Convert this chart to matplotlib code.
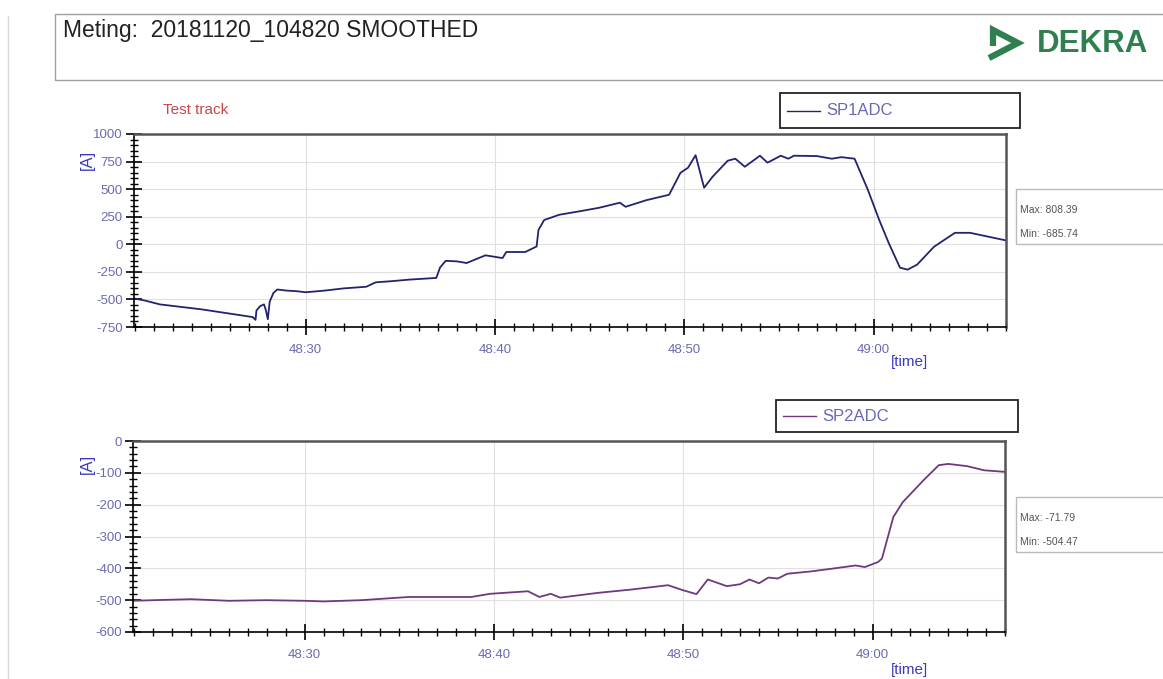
import matplotlib
matplotlib.use("Agg")
import matplotlib.pyplot as plt
from matplotlib.patches import Rectangle
from matplotlib.lines import Line2D
from matplotlib.ticker import MultipleLocator, FuncFormatter

plt.rcParams['font.family'] = ['Liberation Sans', 'DejaVu Sans']
plt.rcParams['axes.unicode_minus'] = False

W, H = 1163, 679

# time in seconds after 10:48:00
sp1_t = [20.9, 21.5, 22.3, 24.5, 27.2, 27.35, 27.4, 27.6, 27.8, 27.9, 28.0, 28.1,
         28.3, 28.5, 29.0, 29.5, 30.0, 31.0, 32.0, 33.2, 33.7, 34.5, 35.5, 36.9,
         37.1, 37.4, 38.0, 38.5, 39.5, 40.4, 40.6, 41.6, 42.2, 42.3, 42.6, 43.4,
         44.5, 45.5, 46.6, 46.9, 48.0, 49.2, 49.8, 50.2, 50.6, 51.05, 51.5, 52.3,
         52.7, 53.2, 54.0, 54.4, 55.1, 55.5, 55.8, 57.0, 57.8, 58.3, 59.0, 59.7,
         60.3, 60.8, 61.4, 61.8, 62.3, 63.2, 64.3, 65.1, 67.0]
sp1_v = [-490, -510, -545, -590, -660, -685, -600, -560, -545, -600, -680, -520,
         -440, -410, -420, -425, -435, -420, -400, -385, -345, -335, -320, -305,
         -210, -150, -155, -170, -100, -125, -70, -70, -20, 130, 220, 268,
         300, 331, 377, 340, 400, 449, 648, 694, 808, 513, 613, 758,
         776, 703, 803, 740, 803, 776, 803, 800, 776, 790, 776, 495,
         221, 13, -212, -230, -185, -22, 104, 104, 35]

sp2_t = [20.9, 22.0, 24.0, 26.0, 28.0, 30.0, 31.0, 33.0, 35.5, 38.8, 39.8, 41.8,
         42.4, 43.0, 43.5, 45.5, 47.2, 49.2, 50.0, 50.7, 51.3, 52.3, 53.0, 53.5,
         54.0, 54.5, 55.0, 55.5, 56.7, 58.0, 59.1, 59.6, 60.3, 60.5, 61.1, 61.6,
         62.7, 63.5, 64.0, 65.0, 65.9, 67.0]
sp2_v = [-502, -500, -497, -502, -500, -502, -504, -500, -490, -490, -480, -472,
         -490, -480, -492, -477, -467, -453, -469, -481, -435, -456, -450, -435,
         -447, -429, -432, -417, -410, -400, -391, -396, -380, -369, -239, -192,
         -123, -76, -72, -79, -92, -97]

sp1_stats = ["Max: 808.39", "Min: -685.74"]
sp2_stats = ["Max: -71.79", "Min: -504.47"]

lab_col = '#6a6ab0'
blue = '#3a3ac0'


def fx(x):
    return x / W


def fy(y):
    return 1 - y / H


def time_fmt(t, pos):
    t = int(round(t))
    return "%d:%02d" % (48 + t // 60, t % 60)


fig = plt.figure(figsize=(W / 100, H / 100), dpi=100)

# outer frame and header box
fig.add_artist(Line2D([fx(8), fx(8)], [fy(16), 0], color='#d8d8d8', lw=1))
fig.add_artist(Rectangle((fx(55), fy(80)), fx(1200 - 55), fy(14) - fy(80),
                         fill=False, ec='#a0a0a0', lw=1))
fig.text(fx(63), fy(31), "Meting:  20181120_104820 SMOOTHED", fontsize=16.5,
         color='#222222', va='center')

# DEKRA logo
green = '#2f7f4f'
fig.add_artist(Line2D([fx(993), fx(993), fx(1018), fx(989)],
                      [fy(46), fy(30), fy(43), fy(58)], color=green, lw=4.5,
                      solid_joinstyle='miter', solid_capstyle='butt'))
fig.text(fx(1037), fy(44), "DEKRA", fontsize=22.5, fontweight='bold', color=green,
         va='center')

fig.text(fx(163), fy(110), "Test track", fontsize=11, color='#c84848', va='center')


def make_axes(rect, t, v, color, ylim, ymajor, yminor, name, leg_box, stat_box, stats, time_y, a_y):
    ax = fig.add_axes(rect)
    ax.plot(t, v, color=color, lw=1.3)
    ax.set_xlim(20.93, 67.0)
    ax.set_ylim(*ylim)
    ax.xaxis.set_major_locator(MultipleLocator(10))
    ax.xaxis.set_minor_locator(MultipleLocator(1))
    ax.xaxis.set_major_formatter(FuncFormatter(time_fmt))
    ax.yaxis.set_major_locator(MultipleLocator(ymajor))
    ax.yaxis.set_minor_locator(MultipleLocator(yminor))
    ax.grid(True, which='major', color='#e0e0e0', lw=0.8)
    ax.tick_params(which='major', direction='inout', length=12, width=1.2,
                   labelsize=9.5, labelcolor=lab_col, pad=2)
    ax.tick_params(axis='x', which='major', pad=6)
    ax.tick_params(which='minor', direction='inout', length=6, width=1.0)
    for s in ['top', 'right']:
        ax.spines[s].set_color('#555555')
        ax.spines[s].set_linewidth(1.8)
    for s in ['left', 'bottom']:
        ax.spines[s].set_linewidth(1.2)

    # legend box
    x0, y0, x1, y1 = leg_box
    fig.add_artist(Rectangle((fx(x0), fy(y1)), fx(x1 - x0), fy(y0) - fy(y1),
                             fill=False, ec='#222222', lw=1.3))
    ym = (y0 + y1) / 2
    fig.add_artist(Line2D([fx(x0 + 7), fx(x0 + 40)], [fy(ym), fy(ym)], color=color, lw=1))
    fig.text(fx(x0 + 46), fy(ym), name, fontsize=12, color=lab_col, va='center')

    # min/max box
    x0, y0, x1, y1 = stat_box
    fig.add_artist(Rectangle((fx(x0), fy(y1)), fx(x1 - x0), fy(y0) - fy(y1),
                             fill=False, ec='#bbbbbb', lw=1))
    fig.text(fx(x0 + 4), fy(y0 + 21), stats[0], fontsize=7.5, color='#555555', va='center')
    fig.text(fx(x0 + 4), fy(y0 + 45), stats[1], fontsize=7.5, color='#555555', va='center')

    fig.text(fx(910), fy(time_y), "[time]", fontsize=11, color=blue, ha='center', va='center')
    fig.text(fx(87), fy(a_y), "[A]", fontsize=12, color=blue, rotation=90,
             ha='center', va='center')
    return ax


make_axes([fx(134), fy(327), fx(1006 - 134), fy(134) - fy(327)], sp1_t, sp1_v,
          '#23236e', (-750, 1000), 250, 50, "SP1ADC",
          (780, 93, 1020, 128), (1016, 189, 1200, 244), sp1_stats, 362, 160)
make_axes([fx(133), fy(632), fx(1005 - 133), fy(441) - fy(632)], sp2_t, sp2_v,
          '#6e3a7e', (-600, 0), 100, 20, "SP2ADC",
          (776, 400, 1018, 432), (1016, 497, 1200, 552), sp2_stats, 670, 464)

fig.savefig("out.png", dpi=100)
